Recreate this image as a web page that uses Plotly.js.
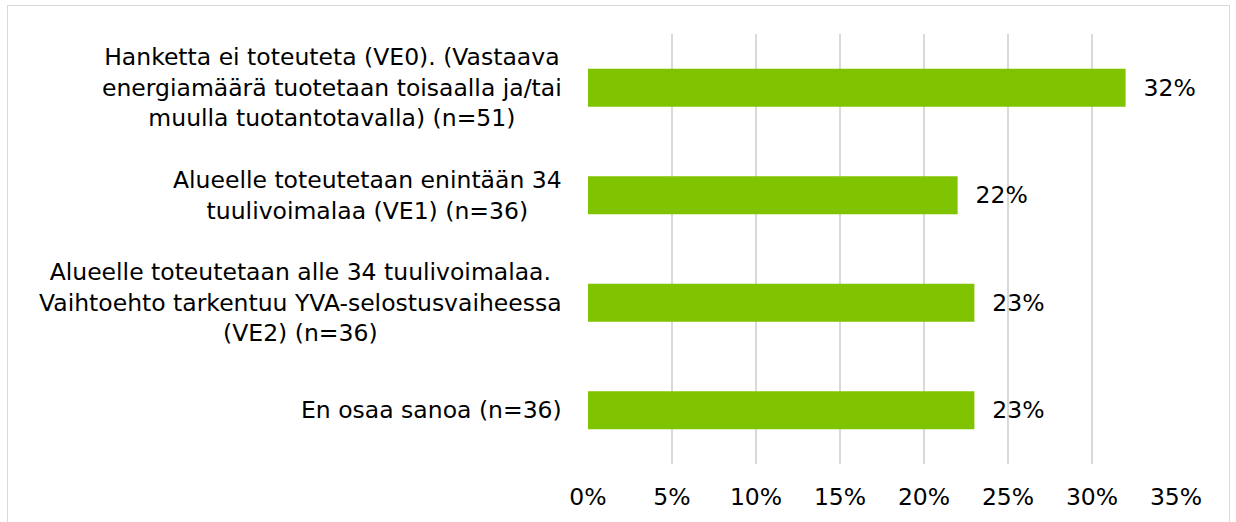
<!DOCTYPE html>
<html>
<head>
<meta charset="utf-8">
<script src="https://cdn.plot.ly/plotly-3.0.1.min.js"></script>
<style>
html,body{margin:0;padding:0;background:#fff;}
#wrap{position:relative;width:1236px;height:522px;overflow:hidden;}
#chart{position:absolute;left:0;top:0;width:1236px;height:522px;}
#frame{position:absolute;left:7px;top:5px;width:1221px;height:540px;border:1px solid #d9d9d9;pointer-events:none;}
</style>
</head>
<body>
<div id="wrap"><div id="chart"></div><div id="frame"></div></div>
<script>
const categories = [
  "Hanketta ei toteuteta (VE0). (Vastaava<br>energiamäärä tuotetaan toisaalla ja/tai<br>muulla tuotantotavalla) (n=51)",
  "Alueelle toteutetaan enintään 34<br>tuulivoimalaa (VE1) (n=36)",
  "Alueelle toteutetaan alle 34 tuulivoimalaa.<br>Vaihtoehto tarkentuu YVA-selostusvaiheessa<br>(VE2) (n=36)",
  "En osaa sanoa (n=36)"
];
const values = [0.32, 0.22, 0.23, 0.23];
const tickVals = [0, 0.05, 0.10, 0.15, 0.20, 0.25, 0.30, 0.35];

const font = "DejaVu Sans, Verdana, sans-serif";
const fsize = 23.5;
const keys = categories.map((c, i) => "c" + i);

const trace = {
  type: "bar",
  orientation: "h",
  y: keys,
  x: values,
  marker: {color: "#80c300"},
  text: values.map(v => "\u00a0\u00a0" + Math.round(v * 100) + "%"),
  texttemplate: "%{text}",
  textposition: "outside",
  textfont: {family: font, size: fsize, color: "#000"},
  cliponaxis: false,
  hoverinfo: "skip"
};

const annotations = categories.map((c, i) => ({
  xref: "paper", yref: "y",
  x: -0.04, y: keys[i],
  xanchor: "right", yanchor: "middle",
  align: "center",
  text: c,
  showarrow: false,
  font: {family: font, size: fsize, color: "#000"}
}));

const layout = {
  width: 1236, height: 522,
  margin: {l: 588, r: 60, t: 34, b: 58},
  paper_bgcolor: "#fff", plot_bgcolor: "#fff",
  showlegend: false,
  bargap: 0.647,
  font: {family: font, size: fsize, color: "#000"},
  xaxis: {
    range: [0, 0.35],
    tickvals: tickVals,
    tickformat: ".0%",
    showgrid: true, gridcolor: "#d9d9d9", gridwidth: 2,
    zeroline: false, showline: false, ticks: "",
    ticklabelstandoff: 16,
    tickfont: {family: font, size: fsize, color: "#000"}
  },
  yaxis: {
    type: "category",
    categoryorder: "array", categoryarray: keys.slice().reverse(),
    showticklabels: false, showgrid: false, zeroline: false, showline: false, ticks: ""
  },
  annotations: annotations
};

Plotly.newPlot("chart", [trace], layout, {staticPlot: true, displayModeBar: false});
</script>
</body>
</html>
